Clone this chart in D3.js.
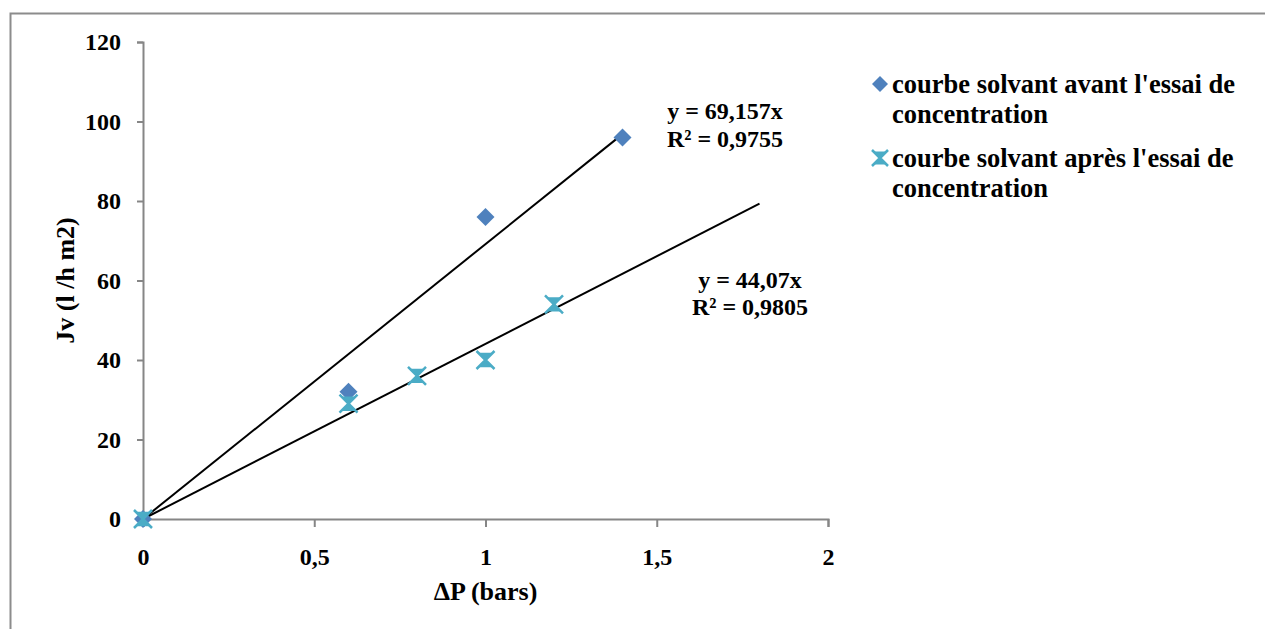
<!DOCTYPE html>
<html>
<head>
<meta charset="utf-8">
<script src="https://cdn.jsdelivr.net/npm/d3@7"></script>
<style>
  body { margin: 0; background: #fff; }
  svg text { font-family: "Times New Roman", "Liberation Serif", "DejaVu Serif", serif; font-weight: bold; fill: #000; }
</style>
</head>
<body>
<div id="chart"></div>
<script>
// data
const avantX = [0, 0.6, 1, 1.4]
const avantY = [0, 32, 76, 96]
const apresX = [0, 0.6, 0.8, 1, 1.2]
const apresY = [0, 29, 36, 40, 54]
const slopes = [69.157, 44.07]
const trendEnd = [1.4, 1.8]
const eqLabels = [["y = 69,157x", "R² = 0,9755"], ["y = 44,07x", "R² = 0,9805"]]
const xTicks = [0, 0.5, 1, 1.5, 2]
const yTicks = [0, 20, 40, 60, 80, 100, 120]
const legendNames = [["courbe solvant avant l'essai de", "concentration"], ["courbe solvant après l'essai de", "concentration"]]

const conf = {
    width: 1265,
    height: 629,
    left: 143,
    right: 828,
    top: 42,
    bottom: 519,
    colors: ["#4F81BD", "#4BACC6"],
    axisColor: "#868686",
    serif: '"Times New Roman", "Liberation Serif", serif'
}

let svg = d3.select("#chart").append("svg")
    .attr("width", conf.width)
    .attr("height", conf.height)

// outer frame
svg.append("rect")
    .attr("x", 10.5).attr("y", 13.5)
    .attr("width", 1300).attr("height", 700)
    .attr("fill", "none")
    .attr("stroke", "#8c8c8c")
    .attr("stroke-width", 2)

let x = d3.scaleLinear().domain([0, 2]).range([conf.left, conf.right])
let y = d3.scaleLinear().domain([0, 120]).range([conf.bottom, conf.top])

let fmt = d => String(d).replace(".", ",")

// axes
let xAxis = d3.axisBottom(x).tickValues(xTicks).tickSize(8).tickPadding(16).tickFormat(fmt)
let yAxis = d3.axisLeft(y).tickValues(yTicks).tickSize(6).tickPadding(16).tickFormat(fmt)

let gx = svg.append("g").attr("class", "x axis")
    .attr("transform", "translate(0," + conf.bottom + ")")
    .call(xAxis)
let gy = svg.append("g").attr("class", "y axis")
    .attr("transform", "translate(" + conf.left + ",0)")
    .call(yAxis)

svg.selectAll(".axis").attr("font-family", conf.serif).attr("font-size", 24)
svg.selectAll(".axis path, .axis line")
    .attr("stroke", conf.axisColor)
    .attr("stroke-width", 2)
svg.selectAll(".axis text")
    .style("font-family", conf.serif)
    .style("font-weight", "bold")
    .style("font-size", "24px")
    .attr("fill", "#000")
gx.selectAll("text").attr("dy", "0.9em")

// axis titles
svg.append("text")
    .attr("x", x(1)).attr("y", 600)
    .attr("text-anchor", "middle")
    .style("font-size", "26px")
    .text("ΔP (bars)")
svg.append("text")
    .attr("transform", "translate(74," + y(60) + ") rotate(-90)")
    .attr("text-anchor", "middle")
    .style("font-size", "26px")
    .text("Jv (l /h m2)")

// trend lines
slopes.forEach((s, i) => {
    svg.append("line")
        .attr("x1", x(0)).attr("y1", y(0))
        .attr("x2", x(trendEnd[i])).attr("y2", y(s * trendEnd[i]))
        .attr("stroke", "#000")
        .attr("stroke-width", 2)
})

// marker shapes
let diamond = s => `M0,${-s}L${s},0L0,${s}L${-s},0Z`
let hourglass = s => `M${-s},${-s}L${s},${-s}L${-s},${s}L${s},${s}Z`
let crossArms = s => `M${-s},${-s}L${s},${s}M${s},${-s}L${-s},${s}`

function drawDiamond(g, px, py, s) {
    g.append("path")
        .attr("transform", `translate(${px},${py})`)
        .attr("d", diamond(s))
        .attr("fill", conf.colors[0])
}

function drawStar(g, px, py, s) {
    let m = g.append("g").attr("transform", `translate(${px},${py})`)
    m.append("path").attr("d", hourglass(s * 0.8)).attr("fill", conf.colors[1])
    m.append("path").attr("d", crossArms(s))
        .attr("stroke", conf.colors[1]).attr("stroke-width", 2.5).attr("fill", "none")
}

let marks = svg.append("g").attr("class", "marks")
avantX.forEach((v, i) => drawDiamond(marks, x(v), y(avantY[i]), 9))
apresX.forEach((v, i) => drawStar(marks, x(v), y(apresY[i]), 9))

// equations
let eqPos = [[725, 119, 147], [750, 288, 315]]
eqLabels.forEach((lines, i) => {
    lines.forEach((t, j) => {
        svg.append("text")
            .attr("x", eqPos[i][0]).attr("y", eqPos[i][j + 1])
            .attr("text-anchor", "middle")
            .style("font-size", "24px")
            .text(t)
    })
})

// legend
let legend = svg.append("g").attr("class", "legend")
let legTop = [93, 167]
legendNames.forEach((lines, i) => {
    if (i === 0) drawDiamond(legend, 880, legTop[i] - 9, 8)
    else drawStar(legend, 880, legTop[i] - 9, 8)
    lines.forEach((t, j) => {
        legend.append("text")
            .attr("x", 892).attr("y", legTop[i] + j * 30)
            .style("font-size", "26.5px")
            .text(t)
    })
})
</script>
</body>
</html>
